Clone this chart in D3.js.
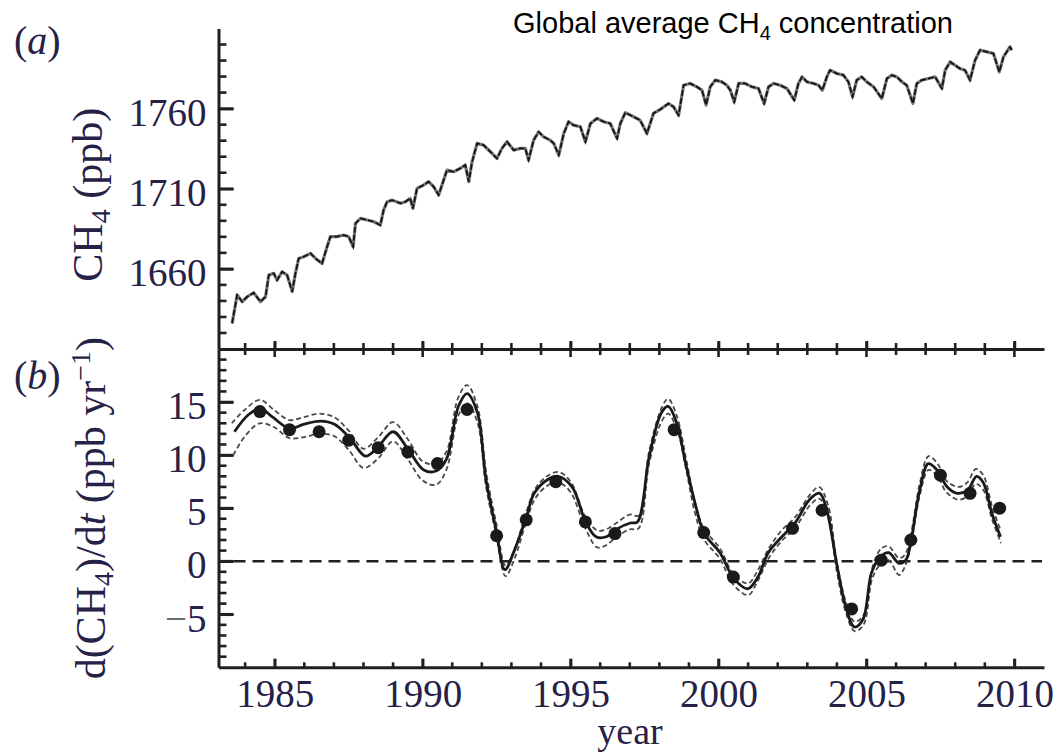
<!DOCTYPE html>
<html>
<head>
<meta charset="utf-8">
<script src="https://cdn.jsdelivr.net/npm/d3@7"></script>
<style>
  body { margin: 0; background: #fff; }
  svg { display: block; }
</style>
</head>
<body>
<svg id="drawing_region"></svg>
<script>
// (a) global average CH4 as [year, ppb]
const ch4Series = [
  [1983.56,1626.0],[1983.73,1643.7],[1983.90,1639.5],[1984.07,1642.6],[1984.29,1645.1],[1984.52,1639.5],
  [1984.69,1642.6],[1984.80,1656.1],[1984.97,1657.2],[1985.08,1653.0],[1985.25,1658.2],[1985.42,1656.1],
  [1985.59,1645.8],[1985.70,1657.2],[1985.81,1666.5],[1985.98,1667.6],[1986.21,1669.7],[1986.38,1666.5],
  [1986.60,1663.4],[1986.77,1673.8],[1986.88,1680.1],[1987.11,1680.1],[1987.33,1681.1],[1987.50,1680.1],
  [1987.65,1673.8],[1987.73,1688.4],[1987.90,1691.5],[1988.12,1690.5],[1988.35,1689.4],[1988.57,1687.3],
  [1988.68,1696.7],[1988.80,1701.9],[1988.97,1702.9],[1989.25,1700.9],[1989.42,1701.9],[1989.58,1704.0],
  [1989.67,1697.7],[1989.81,1710.2],[1990.03,1712.3],[1990.20,1714.4],[1990.37,1711.3],[1990.54,1706.1],
  [1990.71,1715.4],[1990.82,1721.6],[1991.05,1720.6],[1991.27,1722.7],[1991.44,1724.8],[1991.56,1714.4],
  [1991.67,1726.8],[1991.84,1738.3],[1992.06,1737.2],[1992.29,1733.1],[1992.51,1728.9],[1992.68,1735.2],
  [1992.85,1739.3],[1993.08,1734.1],[1993.30,1735.2],[1993.47,1735.2],[1993.58,1727.9],[1993.75,1740.3],
  [1993.92,1745.5],[1994.09,1742.4],[1994.31,1740.3],[1994.43,1738.3],[1994.60,1731.0],[1994.77,1744.5],
  [1994.93,1751.8],[1995.10,1749.7],[1995.33,1748.7],[1995.50,1739.3],[1995.67,1750.7],[1995.89,1753.9],
  [1996.12,1751.8],[1996.34,1750.7],[1996.57,1741.4],[1996.68,1750.7],[1996.85,1757.5],[1997.13,1754.9],
  [1997.35,1752.8],[1997.58,1744.5],[1997.80,1757.0],[1998.03,1759.5],[1998.31,1763.2],[1998.48,1761.1],
  [1998.65,1755.9],[1998.82,1774.6],[1999.04,1775.7],[1999.27,1773.6],[1999.44,1771.5],[1999.58,1762.2],
  [1999.72,1773.6],[1999.89,1777.8],[2000.11,1776.7],[2000.28,1774.6],[2000.40,1771.5],[2000.53,1764.2],
  [2000.68,1775.7],[2000.90,1775.7],[2001.13,1773.6],[2001.35,1772.6],[2001.54,1763.2],[2001.69,1773.6],
  [2001.86,1775.7],[2002.08,1774.6],[2002.31,1772.6],[2002.56,1765.3],[2002.70,1775.7],[2002.82,1779.8],
  [2002.99,1776.7],[2003.21,1775.7],[2003.38,1774.6],[2003.51,1771.5],[2003.66,1779.8],[2003.77,1784.0],
  [2004.00,1781.9],[2004.22,1780.9],[2004.39,1776.7],[2004.53,1767.4],[2004.67,1777.8],[2004.84,1779.8],
  [2005.01,1776.7],[2005.24,1773.6],[2005.52,1766.3],[2005.69,1778.8],[2005.86,1780.9],[2006.03,1779.8],
  [2006.20,1776.7],[2006.36,1774.6],[2006.57,1763.2],[2006.70,1775.7],[2006.87,1777.8],[2007.10,1778.8],
  [2007.32,1779.8],[2007.55,1772.6],[2007.66,1784.0],[2007.83,1789.2],[2007.99,1787.1],[2008.16,1785.0],
  [2008.33,1784.0],[2008.50,1777.8],[2008.67,1790.2],[2008.84,1796.5],[2009.07,1795.4],[2009.29,1794.4],
  [2009.49,1782.9],[2009.63,1792.3],[2009.85,1798.5],[2009.91,1796.5]
];

// (b) growth rate, solid curve [year, ppb/yr]
const rateSolid = [
  [1983.64,12.2],[1984.11,13.8],[1984.52,14.4],[1984.92,13.6],[1985.51,12.5],[1985.97,12.9],[1986.55,13.2],
  [1987.02,12.9],[1987.54,11.6],[1988.07,9.9],[1988.47,10.7],[1989.00,12.2],[1989.52,10.5],[1990.04,8.6],
  [1990.45,8.5],[1990.80,9.6],[1991.21,14.6],[1991.50,15.8],[1991.85,14.0],[1992.14,7.7],[1992.48,3.0],
  [1992.78,-0.8],[1993.07,0.8],[1993.51,4.2],[1993.77,6.4],[1994.23,7.7],[1994.58,8.0],[1995.05,7.0],
  [1995.51,3.7],[1995.86,2.3],[1996.21,2.3],[1996.54,3.0],[1997.02,3.6],[1997.26,3.7],[1997.66,9.9],
  [1998.07,14.0],[1998.30,14.6],[1998.59,13.0],[1998.89,9.2],[1999.23,5.2],[1999.52,2.6],[2000.05,0.8],
  [2000.51,-1.6],[2000.98,-2.6],[2001.33,-1.5],[2001.68,0.8],[2002.14,2.3],[2002.61,3.7],[2003.07,5.8],
  [2003.42,6.4],[2003.66,4.8],[2004.01,-0.5],[2004.30,-4.3],[2004.59,-6.2],[2004.88,-5.5],[2005.17,-1.1],
  [2005.46,0.4],[2005.75,0.8],[2006.10,-0.2],[2006.33,0.1],[2006.51,2.0],[2006.80,6.7],[2007.09,9.2],
  [2007.38,8.6],[2007.73,7.0],[2008.07,6.4],[2008.42,6.7],[2008.72,8.0],[2008.95,7.4],[2009.24,4.5],
  [2009.53,2.3]
];

// dashed upper / lower bounds
const rateUpper = [
  [1983.55,13.0],[1984.0,14.3],[1984.5,15.2],[1985.0,14.2],[1985.5,13.3],[1986.0,13.6],[1986.5,13.9],
  [1987.0,13.6],[1987.5,12.3],[1988.0,10.6],[1988.5,11.7],[1989.0,13.1],[1989.5,11.5],[1990.0,9.4],
  [1990.45,9.2],[1990.8,10.3],[1991.2,15.4],[1991.5,16.6],[1991.85,14.6],[1992.15,8.3],[1992.5,3.4],
  [1992.8,-0.4],[1993.1,1.1],[1993.5,4.6],[1993.8,6.8],[1994.2,8.0],[1994.6,8.4],[1995.0,7.5],[1995.5,4.2],
  [1995.9,2.9],[1996.2,3.0],[1996.55,3.6],[1997.0,4.4],[1997.3,4.3],[1997.66,10.4],[1998.1,14.6],
  [1998.3,15.3],[1998.6,13.6],[1998.9,9.7],[1999.2,5.6],[1999.5,3.1],[2000.05,1.2],[2000.5,-1.2],
  [2001.0,-2.1],[2001.3,-1.0],[2001.7,1.2],[2002.1,2.8],[2002.6,4.2],[2003.1,6.3],[2003.4,7.0],[2003.7,5.3],
  [2004.0,-0.1],[2004.3,-3.8],[2004.6,-5.7],[2004.9,-5.1],[2005.2,-0.6],[2005.5,1.2],[2005.75,1.4],
  [2006.1,0.3],[2006.3,0.6],[2006.5,2.5],[2006.8,7.3],[2007.1,9.9],[2007.4,9.2],[2007.7,7.6],[2008.1,7.0],
  [2008.4,7.4],[2008.7,8.7],[2008.95,8.1],[2009.25,5.1],[2009.55,2.8]
];
const rateLower = [
  [1983.6,10.0],[1984.0,11.8],[1984.5,13.0],[1985.0,12.6],[1985.5,11.6],[1986.0,11.7],[1986.5,12.0],
  [1987.0,11.8],[1987.5,10.5],[1988.0,8.8],[1988.5,9.7],[1989.0,11.3],[1989.5,9.6],[1990.0,7.6],
  [1990.45,7.2],[1990.8,8.6],[1991.2,13.7],[1991.5,14.9],[1991.85,13.1],[1992.15,6.9],[1992.5,2.3],
  [1992.8,-1.4],[1993.1,0.2],[1993.5,3.7],[1993.8,5.9],[1994.2,7.1],[1994.6,7.4],[1995.0,6.5],[1995.5,3.1],
  [1995.9,1.3],[1996.2,1.5],[1996.55,2.3],[1997.0,3.0],[1997.3,3.1],[1997.66,9.3],[1998.1,13.3],
  [1998.3,13.9],[1998.6,12.4],[1998.9,8.7],[1999.2,4.6],[1999.5,2.1],[2000.05,0.2],[2000.5,-2.2],
  [2001.0,-3.2],[2001.3,-2.0],[2001.7,0.3],[2002.1,1.8],[2002.6,3.2],[2003.1,5.3],[2003.4,5.9],[2003.7,4.3],
  [2004.0,-1.0],[2004.3,-4.8],[2004.6,-6.6],[2004.9,-6.0],[2005.2,-1.6],[2005.5,-0.2],[2005.75,0.1],
  [2006.1,-1.3],[2006.3,-0.5],[2006.5,1.5],[2006.8,6.2],[2007.1,8.6],[2007.4,8.0],[2007.7,6.5],[2008.1,5.8],
  [2008.4,6.1],[2008.7,7.3],[2008.95,6.7],[2009.25,3.9],[2009.55,1.7]
];

// annual growth rates (dots)
const dotYears  = [1984.5,1985.5,1986.5,1987.5,1988.5,1989.5,1990.5,1991.5,1992.5,1993.5,1994.5,1995.5,
                   1996.5,1998.5,1999.5,2000.5,2002.5,2003.5,2004.5,2005.5,2006.5,2007.5,2008.5,2009.5];
const dotRates  = [14.1,12.4,12.2,11.4,10.7,10.3,9.2,14.3,2.4,3.9,7.5,3.7,
                   2.6,12.4,2.7,-1.5,3.1,4.8,-4.5,0.1,2.0,8.1,6.4,5.0];

// tick labels
const yearTicks = [1985, 1990, 1995, 2000, 2005, 2010];
const ch4Ticks  = [1660, 1710, 1760];
const rateTicks = [-5, 0, 5, 10, 15];

const SERIF = "'Liberation Serif', 'Times New Roman', serif";
const SANS = "'Liberation Sans', Arial, sans-serif";
const AXIS_COLOR = '#231f20';
const LABEL_COLOR = '#262147';

class MethanePanels {

    constructor( config ) {
        this.config = config;
        this.init();
    }

    init() {
        let self = this;
        const c = self.config;

        self.svg = d3.select( c.parent )
            .attr('width', c.width)
            .attr('height', c.height);

        self.xscale = d3.scaleLinear()
            .domain([1983.1, 2011])
            .range([c.left, c.right]);

        self.ytop = d3.scaleLinear()
            .domain([1610, 1810])
            .range([c.mid, c.top]);

        self.ybot = d3.scaleLinear()
            .domain([-10, 20])
            .range([c.bottom, c.mid]);
    }

    addAxis( gen, transform ) {
        let self = this;
        const g = self.svg.append('g')
            .attr('transform', transform)
            .call( gen );
        g.select('.domain')
            .attr('stroke', AXIS_COLOR)
            .attr('stroke-width', 3);
        g.selectAll('.tick line')
            .attr('stroke', AXIS_COLOR)
            .attr('stroke-width', 2.6);
        g.selectAll('.tick text')
            .attr('fill', LABEL_COLOR)
            .attr('font-family', SERIF)
            .attr('font-size', 39);
        return g;
    }

    // inward tick marks placed with the scales
    ticks( values, scale, vertical, base, len ) {
        let self = this;
        self.svg.append('g')
            .selectAll('line')
            .data(values)
            .enter()
            .append('line')
            .attr('x1', d => vertical ? base : scale(d))
            .attr('x2', d => vertical ? base + len : scale(d))
            .attr('y1', d => vertical ? scale(d) : base)
            .attr('y2', d => vertical ? scale(d) : base + len)
            .attr('stroke', AXIS_COLOR)
            .attr('stroke-width', 2.6);
    }

    render() {
        let self = this;
        const c = self.config;
        const plain = d => d;

        const minorYears = d3.range(1984, 2011).filter(v => !yearTicks.includes(v));
        const minorCh4 = d3.range(1620, 1801, 10).filter(v => !ch4Ticks.includes(v));
        const minorRate = d3.range(-9, 20).filter(v => !rateTicks.includes(v));

        // axis lines and tick labels
        self.addAxis( d3.axisLeft(self.ytop).tickValues(ch4Ticks).tickSizeInner(-15).tickSizeOuter(0)
                .tickPadding(12).tickFormat(plain),
            `translate(${c.left},0)` )
            .selectAll('.tick text').attr('dy', '0.43em');

        self.addAxis( d3.axisBottom(self.xscale).tickValues(yearTicks).tickSizeInner(-8).tickSizeOuter(0).tickFormat(''),
            `translate(0,${c.mid})` );

        const rateAxis = self.addAxis( d3.axisLeft(self.ybot).tickValues(rateTicks).tickSizeInner(-15).tickSizeOuter(0)
                .tickPadding(12).tickFormat(d => Math.abs(d)),
            `translate(${c.left},0)` );
        rateAxis.selectAll('.tick text').attr('dy', '0.43em')
            .filter(d => d < 0)
            .each(function() {
                const t = d3.select(this);
                const txt = t.text();
                t.text('');
                t.append('tspan').attr('fill', '#6b6b6b').text('\u2212');
                t.append('tspan').text(txt);
            });

        self.addAxis( d3.axisBottom(self.xscale).tickValues(yearTicks).tickSizeInner(-8.5).tickSizeOuter(0)
                .tickPadding(12).tickFormat(plain),
            `translate(0,${c.bottom})` );

        // tick marks
        self.ticks(minorCh4, self.ytop, true, c.left, 8);
        self.ticks(ch4Ticks, self.ytop, true, c.left, 15);
        self.ticks(minorRate, self.ybot, true, c.left, 8);
        self.ticks(rateTicks, self.ybot, true, c.left, 15);
        self.ticks(minorYears, self.xscale, false, c.mid - 6, 12);
        self.ticks(yearTicks, self.xscale, false, c.mid - 7.5, 15.5);
        self.ticks(minorYears, self.xscale, false, c.bottom, -5);
        self.ticks(yearTicks, self.xscale, false, c.bottom, -8.5);

        // panel (a) line
        const topLine = d3.line()
            .x(d => self.xscale(d[0]))
            .y(d => self.ytop(d[1]));

        self.svg.append('path')
            .datum(ch4Series)
            .attr('fill', 'none')
            .attr('stroke', '#7a7a7a')
            .attr('stroke-width', 3.2)
            .attr('stroke-linejoin', 'round')
            .attr('d', topLine);

        self.svg.append('path')
            .datum(ch4Series)
            .attr('fill', 'none')
            .attr('stroke', '#151515')
            .attr('stroke-width', 1.8)
            .attr('stroke-dasharray', '6,2')
            .attr('d', topLine);

        // panel (b)
        const rateLine = d3.line()
            .x(d => self.xscale(d[0]))
            .y(d => self.ybot(d[1]))
            .curve(d3.curveCatmullRom.alpha(0.5));

        self.svg.append('line')
            .attr('x1', c.left + 15)
            .attr('x2', c.right - 2)
            .attr('y1', self.ybot(0))
            .attr('y2', self.ybot(0))
            .attr('stroke', AXIS_COLOR)
            .attr('stroke-width', 2.5)
            .attr('stroke-dasharray', '12,7');

        [rateUpper, rateLower].forEach(series => {
            self.svg.append('path')
                .datum(series)
                .attr('fill', 'none')
                .attr('stroke', '#4a4a4a')
                .attr('stroke-width', 1.8)
                .attr('stroke-dasharray', '5,3')
                .attr('d', rateLine);
        });

        self.svg.append('path')
            .datum(rateSolid)
            .attr('fill', 'none')
            .attr('stroke', '#1a1a1a')
            .attr('stroke-width', 2.8)
            .attr('d', rateLine);

        self.svg.append('g')
            .selectAll('circle')
            .data(dotYears)
            .enter()
            .append('circle')
            .attr('cx', d => self.xscale(d))
            .attr('cy', (d, i) => self.ybot(dotRates[i]))
            .attr('r', 6.5)
            .attr('fill', '#1a1a1a');

        // texts
        const title = self.svg.append('text')
            .attr('x', 513)
            .attr('y', 33)
            .attr('font-family', SANS)
            .attr('font-size', 29)
            .attr('fill', '#000');
        title.append('tspan').text('Global average CH');
        title.append('tspan').attr('font-size', 20).attr('dy', 7).text('4');
        title.append('tspan').attr('dy', -7).text(' concentration');

        const panelLabel = (txt, y) => {
            const t = self.svg.append('text')
                .attr('x', 14)
                .attr('y', y)
                .attr('font-family', SERIF)
                .attr('font-size', 40)
                .attr('fill', LABEL_COLOR);
            t.append('tspan').text('(');
            t.append('tspan').attr('font-style', 'italic').text(txt);
            t.append('tspan').text(')');
        };
        panelLabel('a', 54);
        panelLabel('b', 389);

        const ylabA = self.svg.append('text')
            .attr('transform', `translate(101.5,${(c.top + c.mid) / 2 + 6}) rotate(-90)`)
            .attr('text-anchor', 'middle')
            .attr('font-family', SERIF)
            .attr('font-size', 42)
            .attr('fill', LABEL_COLOR);
        ylabA.append('tspan').text('CH');
        ylabA.append('tspan').attr('font-size', 28).attr('dy', 8).text('4');
        ylabA.append('tspan').attr('dy', -8).text(' (ppb)');

        const ylabB = self.svg.append('text')
            .attr('transform', `translate(105,${(c.mid + c.bottom) / 2}) rotate(-90)`)
            .attr('text-anchor', 'middle')
            .attr('font-family', SERIF)
            .attr('font-size', 42)
            .attr('fill', LABEL_COLOR);
        ylabB.append('tspan').text('d(CH');
        ylabB.append('tspan').attr('font-size', 28).attr('dy', 8).text('4');
        ylabB.append('tspan').attr('dy', -8).text(')/d');
        ylabB.append('tspan').attr('font-style', 'italic').text('t');
        ylabB.append('tspan').text(' (ppb yr');
        ylabB.append('tspan').attr('font-size', 28).attr('dy', -15).text('\u22121');
        ylabB.append('tspan').attr('dy', 15).text(')');

        self.svg.append('text')
            .attr('x', 630)
            .attr('y', 744)
            .attr('text-anchor', 'middle')
            .attr('font-family', SERIF)
            .attr('font-size', 38)
            .attr('fill', LABEL_COLOR)
            .text('year');
    }
}

const panels = new MethanePanels({
    parent: '#drawing_region',
    width: 1059,
    height: 754,
    left: 218.5,
    right: 1044,
    top: 28.5,
    mid: 349,
    bottom: 667.3
});
panels.render();
</script>
</body>
</html>
